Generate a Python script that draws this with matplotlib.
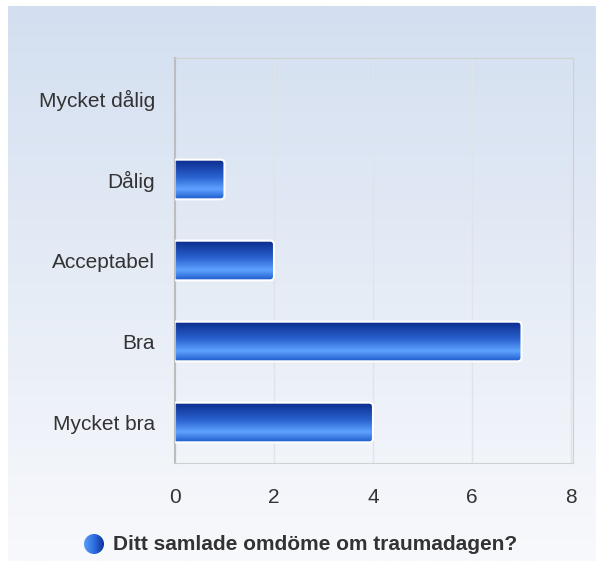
import numpy as np
import matplotlib
matplotlib.use('Agg')
import matplotlib.pyplot as plt
from matplotlib.patches import FancyBboxPatch, Circle
from matplotlib.colors import LinearSegmentedColormap

plt.rcParams['font.family'] = ['Liberation Sans', 'DejaVu Sans']

# data
categories = ['Mycket dålig', 'Dålig', 'Acceptabel', 'Bra', 'Mycket bra']
counts = [0, 1, 2, 7, 4]
series_name = 'Ditt samlade omdöme om traumadagen?'
xticks = [0, 2, 4, 6, 8]

W, H = 596, 561
fig = plt.figure(figsize=(W / 100, H / 100), dpi=100)

# background gradient (light blue top -> almost white bottom)
bg = fig.add_axes([8 / W, 0, 1 - 8 / W, 1 - 6 / H])
bg.set_xlim(0, W - 8)
bg.set_ylim(0, H - 6)
bg.axis('off')
bg_cmap = LinearSegmentedColormap.from_list('bg', ['#f8f9fc', '#d3dff0'])
grad = np.linspace(0, 1, 256).reshape(-1, 1)
bg.imshow(grad, cmap=bg_cmap, aspect='auto', extent=[0, W - 8, 0, H - 6], origin='lower')

# legend icon (sphere)
cx, cy, r = 94 - 8, H - 544, 10
sph_cmap = LinearSegmentedColormap.from_list('sph', ['#5a9cf5', '#2f6fe0', '#0b2f9a'])
hgrad = np.linspace(0, 1, 256).reshape(1, -1)
im = bg.imshow(hgrad, cmap=sph_cmap, aspect='auto', extent=[cx - r, cx + r, cy - r, cy + r])
circ = Circle((cx, cy), r, transform=bg.transData, facecolor='none', edgecolor='none')
bg.add_patch(circ)
im.set_clip_path(circ)
fig.text(113 / W, 1 - 544 / H, series_name, fontsize=15, fontweight='bold',
         color='#333333', ha='left', va='center')

# main plot
ax = fig.add_axes([175 / W, (H - 463) / H, (573 - 175) / W, (463 - 58) / H])
ax.set_facecolor('none')
y = np.arange(len(categories))
ax.set_yticks(y)
ax.set_yticklabels(categories)
ax.set_xticks(xticks)
ax.set_xticklabels([str(t) for t in xticks])
ax.tick_params(length=0, labelsize=15, labelcolor='#333333')
ax.tick_params(axis='x', pad=18)
ax.tick_params(axis='y', pad=14.5)
ax.grid(axis='x', color='#dfe3ea', linewidth=1)
ax.set_axisbelow(True)
for side in ['top', 'right', 'bottom']:
    ax.spines[side].set_color('#d0d0d0')
ax.spines['left'].set_color('#bdbdbd')
ax.spines['left'].set_linewidth(1.5)

bars = ax.barh(y, counts, height=0.49, color='none', edgecolor='none')

bar_cmap = LinearSegmentedColormap.from_list(
    'bar', [(0, '#0a2a8a'), (0.45, '#2a62d0'), (0.75, '#5ea2ff'), (1.0, '#1e5ccc')])
vgrad = np.linspace(0, 1, 256).reshape(-1, 1)
px_x = (573 - 175) / 8.04
px_y = (463 - 58) / len(categories)
for b in bars:
    w = b.get_width()
    if w <= 0:
        continue
    y0 = b.get_y()
    hgt = b.get_height()
    patch = FancyBboxPatch((-0.3, y0), w + 0.3, hgt,
                           boxstyle='round,pad=0,rounding_size=0.08',
                           mutation_aspect=px_x / px_y,
                           facecolor='none', edgecolor='white', linewidth=1.5, zorder=3)
    ax.add_patch(patch)
    gim = ax.imshow(vgrad, cmap=bar_cmap, aspect='auto',
                    extent=[-0.3, w, y0 + hgt, y0], origin='upper', zorder=2)
    gim.set_clip_path(patch)

ax.set_xlim(0, 8.04)
ax.set_ylim(len(categories) - 0.5, -0.5)

fig.savefig('out.png', dpi=100)
